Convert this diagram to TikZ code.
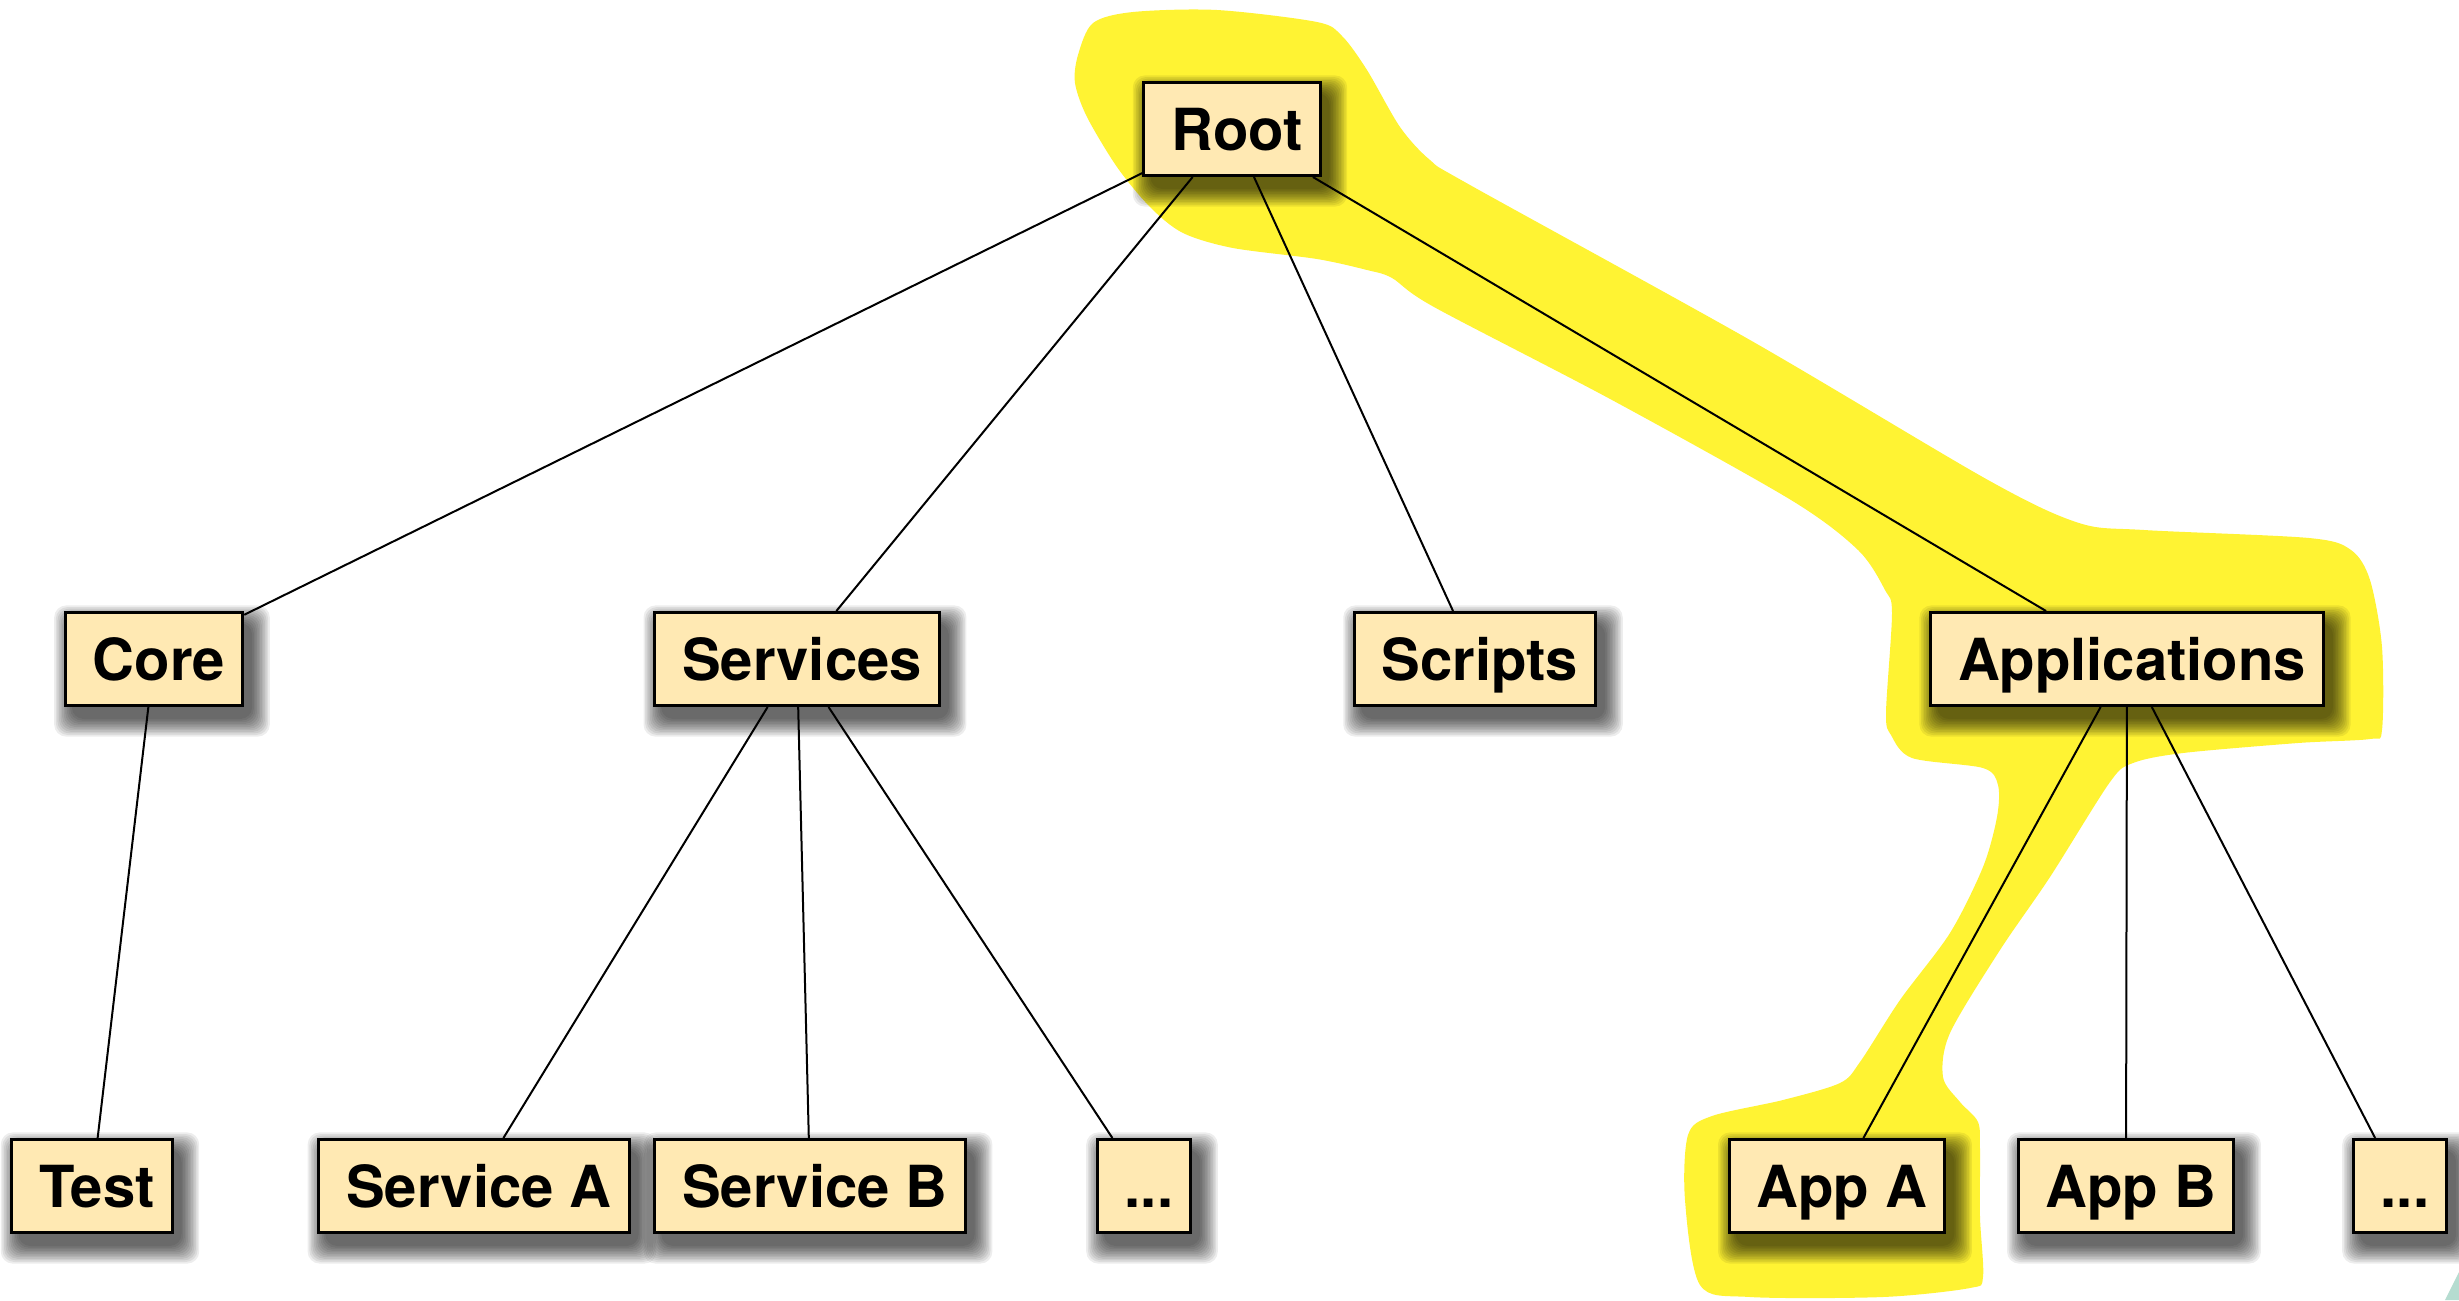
\documentclass[tikz,border=0pt]{standalone}
\usepackage{fontspec}
\setmainfont{TeX Gyre Heros}
\usepackage{tikz}
\usetikzlibrary{calc}
\usetikzlibrary{backgrounds}
\definecolor{boxfill}{HTML}{FFE9B3}
\definecolor{marker}{HTML}{FFF333}
\definecolor{cornergreen}{HTML}{B5DCD0}

\begin{document}
\begin{tikzpicture}[x=0.1mm,y=-0.1mm,
    folder/.style={draw=black,line width=0.3mm,fill=boxfill,
        font=\fontsize{16.5}{20}\selectfont\bfseries,
        text height=4.2mm,text depth=0pt,inner ysep=0pt,minimum height=9.3mm,inner xsep=1.75mm,
        execute at begin node=\hspace*{1mm}},
    link/.style={line width=0.2mm}]%
    \useasboundingbox (0,0) rectangle (2459,1300);%
    % nodes
    \node[folder] (root) at (1232,129) {Root};%
    \node[folder] (core) at (154,659) {Core};%
    \node[folder] (services) at (797,659) {Services};%
    \node[folder] (scripts) at (1475,659) {Scripts};%
    \node[folder] (apps) at (2127,659) {Applications};%
    \node[folder] (test) at (92,1186) {Test};%
    \node[folder] (servA) at (474,1186) {Service A};%
    \node[folder] (servB) at (810,1186) {Service B};%
    \node[folder] (servMore) at (1144,1186) {...};%
    \node[folder] (appA) at (1837,1186) {App A};%
    \node[folder] (appB) at (2126,1186) {App B};%
    \node[folder] (appMore) at (2400,1186) {...};%
    \begin{scope}[on background layer]%
        % highlighted path Root -> Applications -> App A
        \fill[marker] plot[smooth cycle,tension=0.5] coordinates {
            (1093,23) (1133,12) (1217,10) (1317,22) (1342,36) (1367,70) (1400,127) (1430,160)
            (1470,185) (1750,340) (1988,480) (2079,523) (2144,530) (2309,538) (2351,550)
            (2370,580) (2382,647) (2382,730) (2370,739) (2298,743) (2183,753) (2133,763)
            (2110,782) (2050,877) (2000,950) (1950,1033) (1943,1077) (1960,1102) (1978,1122)
            (1980,1150) (1980,1217) (1983,1277) (1970,1288) (1883,1297) (1750,1297) (1700,1285)
            (1685,1200) (1688,1135) (1712,1116) (1783,1100) (1840,1083) (1860,1062) (1900,1000)
            (1950,933) (1983,867) (1997,817) (1998,785) (1983,768) (1912,758) (1891,735)
            (1886,713) (1892,613) (1885,590) (1858,550) (1791,500) (1612,400) (1434,307)
            (1392,278) (1367,270) (1317,259) (1233,248) (1183,233) (1150,207) (1117,167)
            (1087,117) (1075,83) (1078,55)};%
        % soft shadows
        \foreach \n in {root,core,services,scripts,apps,test,servA,servB,servMore,appA,appB,appMore}
            \foreach \k in {0,...,11}
                \fill[black,opacity=0.07,rounded corners=1.2mm]
                    ($(\n.north west)+(8-\k*1.6,12-\k*1.6)$) rectangle ($(\n.south east)+(8+\k*1.6,12+\k*1.6)$);%
    \end{scope}%
    \fill[cornergreen] (2445,1300) -- (2459,1272) -- (2459,1300) -- cycle;%
    % edges
    \draw[link] (root) -- (core);%
    \draw[link] (root) -- (services);%
    \draw[link] (root) -- (scripts);%
    \draw[link] (root) -- (apps);%
    \draw[link] (core) -- (test);%
    \draw[link] (services) -- (servA);%
    \draw[link] (services) -- (servB);%
    \draw[link] (services) -- (servMore);%
    \draw[link] (apps) -- (appA);%
    \draw[link] (apps) -- (appB);%
    \draw[link] (apps) -- (appMore);%
\end{tikzpicture}
\end{document}
